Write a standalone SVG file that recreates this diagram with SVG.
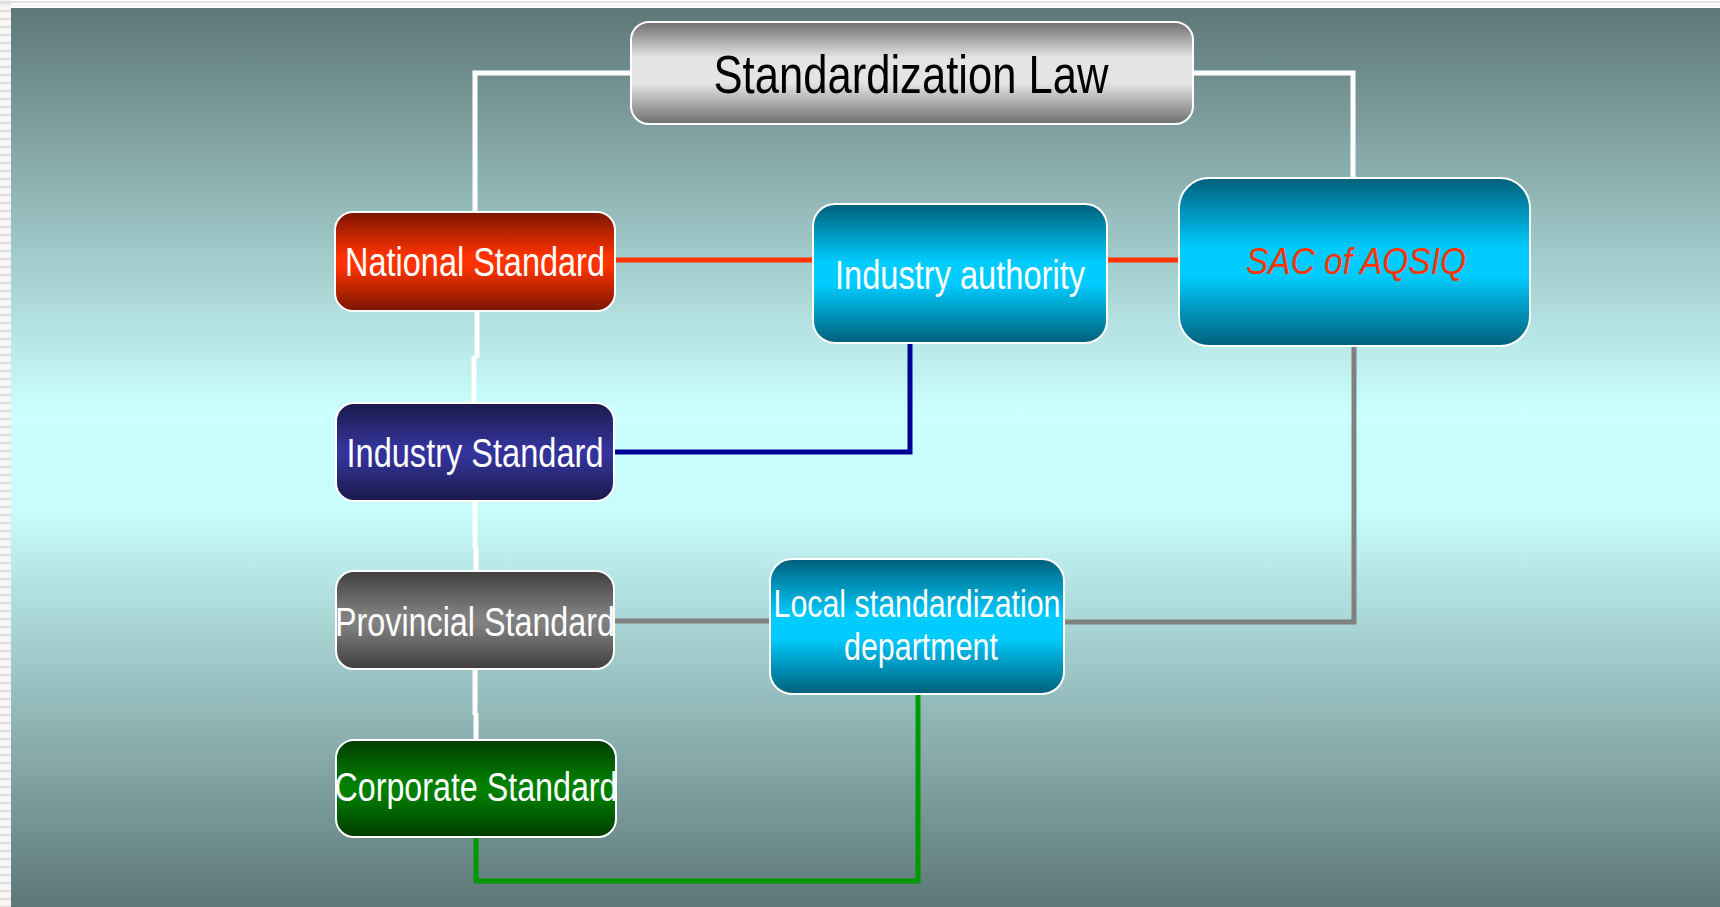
<svg xmlns="http://www.w3.org/2000/svg" width="1720" height="907" viewBox="0 0 1720 907">
<defs>
<linearGradient id="bg" x1="0" y1="0" x2="0" y2="1">
<stop offset="0" stop-color="#5e7777"/>
<stop offset="0.45" stop-color="#ccffff"/>
<stop offset="0.56" stop-color="#c8fbfb"/>
<stop offset="1" stop-color="#5e7777"/>
</linearGradient>
<linearGradient id="gGray" x1="0" y1="0" x2="0" y2="1">
<stop offset="0" stop-color="#6e6e6e"/>
<stop offset="0.35" stop-color="#e4e4e4"/>
<stop offset="0.6" stop-color="#e4e4e4"/>
<stop offset="1" stop-color="#6e6e6e"/>
</linearGradient>
<linearGradient id="gRed" x1="0" y1="0" x2="0" y2="1">
<stop offset="0" stop-color="#7a1500"/>
<stop offset="0.45" stop-color="#ff3300"/>
<stop offset="0.55" stop-color="#ff3300"/>
<stop offset="1" stop-color="#7a1500"/>
</linearGradient>
<linearGradient id="gNavy" x1="0" y1="0" x2="0" y2="1">
<stop offset="0" stop-color="#1a1a4a"/>
<stop offset="0.45" stop-color="#333399"/>
<stop offset="0.55" stop-color="#333399"/>
<stop offset="1" stop-color="#1a1a4a"/>
</linearGradient>
<linearGradient id="gDark" x1="0" y1="0" x2="0" y2="1">
<stop offset="0" stop-color="#3f3f3f"/>
<stop offset="0.45" stop-color="#808080"/>
<stop offset="0.55" stop-color="#808080"/>
<stop offset="1" stop-color="#3f3f3f"/>
</linearGradient>
<linearGradient id="gGreen" x1="0" y1="0" x2="0" y2="1">
<stop offset="0" stop-color="#003c00"/>
<stop offset="0.45" stop-color="#007f00"/>
<stop offset="0.55" stop-color="#007f00"/>
<stop offset="1" stop-color="#003c00"/>
</linearGradient>
<linearGradient id="gCyan" x1="0" y1="0" x2="0" y2="1">
<stop offset="0" stop-color="#005f7a"/>
<stop offset="0.42" stop-color="#00ccff"/>
<stop offset="0.58" stop-color="#00ccff"/>
<stop offset="1" stop-color="#005f7a"/>
</linearGradient>
<pattern id="stripes" x="0" y="0" width="11" height="8" patternUnits="userSpaceOnUse">
<rect width="11" height="8" fill="#f6f6f6"/>
<rect y="2" width="11" height="2" fill="#dcdcdc"/>
</pattern>
</defs>
<style>
.box{stroke:#ffffff;stroke-width:2}
.lbl{font-family:"Liberation Sans Narrow","Liberation Sans",Arial,sans-serif;font-size:40px;fill:#ffffff;text-anchor:middle}
.conn{fill:none;stroke-width:5}
</style>
<rect x="0" y="0" width="1720" height="907" fill="#ffffff"/>
<rect x="0" y="0" width="11" height="907" fill="url(#stripes)"/>
<rect x="0" y="1" width="1720" height="2" fill="#e2e2e2"/>
<rect x="0" y="5" width="1720" height="1" fill="#ececec"/>
<rect x="11" y="8" width="1709" height="899" fill="url(#bg)"/>

<g id="connectors">
<polyline class="conn" stroke="#ffffff" points="475,212 475,73 631,73"/>
<polyline class="conn" stroke="#ffffff" points="1192,73 1353,73 1353,178"/>
<polyline class="conn" stroke="#ffffff" points="477,311 477,358"/>
<polyline class="conn" stroke="#ffffff" points="474,356 474,403"/>
<polyline class="conn" stroke="#ffffff" points="475,501 475,548"/>
<polyline class="conn" stroke="#ffffff" points="476,546 476,571"/>
<polyline class="conn" stroke="#ffffff" points="475,669 475,715"/>
<polyline class="conn" stroke="#ffffff" points="476,713 476,740"/>
<line class="conn" stroke="#ff3300" x1="615" y1="260" x2="813" y2="260"/>
<line class="conn" stroke="#ff3300" x1="1107" y1="260" x2="1179" y2="260"/>
<polyline class="conn" stroke="#000099" points="614,452 910,452 910,343"/>
<line class="conn" stroke="#808080" x1="614" y1="621" x2="770" y2="621"/>
<polyline class="conn" stroke="#808080" points="1064,622 1354,622 1354,346"/>
<polyline class="conn" stroke="#009900" points="476,837 476,881 918,881 918,694"/>
</g>

<g id="law">
<rect class="box" x="631" y="22" width="562" height="102" rx="18" fill="url(#gGray)"/>
<text x="911" y="93" font-family="Liberation Sans Narrow, Liberation Sans, Arial, sans-serif" font-size="53" fill="#000000" text-anchor="middle" textLength="395" lengthAdjust="spacingAndGlyphs">Standardization Law</text>
</g>
<g id="national">
<rect class="box" x="335" y="212" width="280" height="99" rx="18" fill="url(#gRed)"/>
<text class="lbl" x="475" y="276" textLength="260" lengthAdjust="spacingAndGlyphs">National Standard</text>
</g>
<g id="industry-standard">
<rect class="box" x="336" y="403" width="278" height="98" rx="18" fill="url(#gNavy)"/>
<text class="lbl" x="475" y="467" textLength="257" lengthAdjust="spacingAndGlyphs">Industry Standard</text>
</g>
<g id="provincial">
<rect class="box" x="336" y="571" width="278" height="98" rx="18" fill="url(#gDark)"/>
<text class="lbl" x="475" y="636" textLength="280" lengthAdjust="spacingAndGlyphs">Provincial Standard</text>
</g>
<g id="corporate">
<rect class="box" x="336" y="740" width="280" height="97" rx="18" fill="url(#gGreen)"/>
<text class="lbl" x="476" y="801" textLength="283" lengthAdjust="spacingAndGlyphs">Corporate Standard</text>
</g>
<g id="industry-authority">
<rect class="box" x="813" y="204" width="294" height="139" rx="22" fill="url(#gCyan)"/>
<text class="lbl" x="960" y="289" textLength="250" lengthAdjust="spacingAndGlyphs">Industry authority</text>
</g>
<g id="sac">
<rect class="box" x="1179" y="178" width="351" height="168" rx="30" fill="url(#gCyan)"/>
<text x="1356" y="274" font-family="Liberation Sans Narrow, Liberation Sans, Arial, sans-serif" font-size="36" font-style="italic" fill="#ff3300" text-anchor="middle" textLength="220" lengthAdjust="spacingAndGlyphs">SAC of AQSIQ</text>
</g>
<g id="local">
<rect class="box" x="770" y="559" width="294" height="135" rx="22" fill="url(#gCyan)"/>
<text class="lbl" x="917" y="617" style="font-size:38px" textLength="287" lengthAdjust="spacingAndGlyphs">Local standardization</text>
<text class="lbl" x="921" y="660" style="font-size:38px" textLength="154" lengthAdjust="spacingAndGlyphs">department</text>
</g>
</svg>
